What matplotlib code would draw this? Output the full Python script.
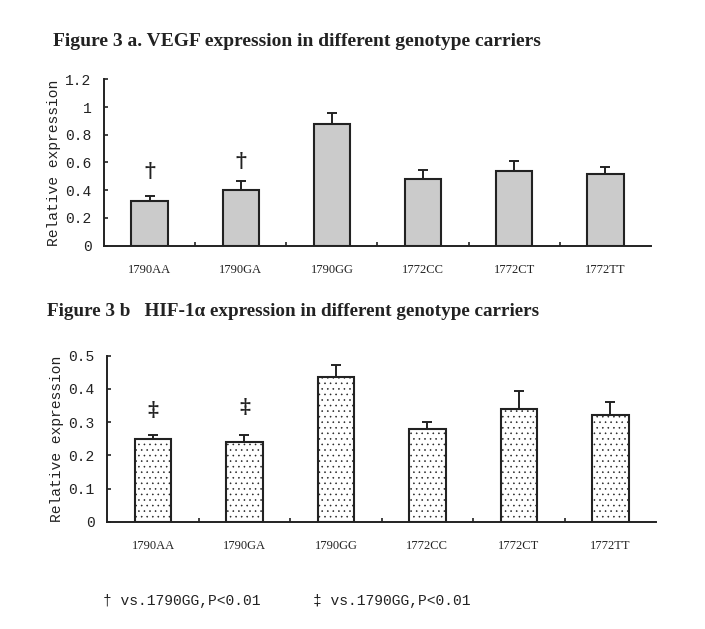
import matplotlib
matplotlib.use("Agg")
import matplotlib.pyplot as plt
import numpy as np

categories = ["1790AA", "1790GA", "1790GG", "1772CC", "1772CT", "1772TT"]
vegf_mean = [0.32, 0.40, 0.88, 0.48, 0.54, 0.52]
vegf_err = [0.04, 0.07, 0.08, 0.065, 0.07, 0.05]
hif_mean = [0.25, 0.24, 0.437, 0.28, 0.34, 0.322]
hif_err = [0.012, 0.022, 0.034, 0.02, 0.053, 0.038]
vegf_ticks = [0, 0.2, 0.4, 0.6, 0.8, 1, 1.2]
vegf_ticklabels = ["0", "0.2", "0.4", "0.6", "0.8", "1", "1.2"]
hif_ticks = [0, 0.1, 0.2, 0.3, 0.4, 0.5]
hif_ticklabels = ["0", "0.1", "0.2", "0.3", "0.4", "0.5"]
vegf_marks = {0: ("†", 0.54), 1: ("†", 0.61)}
hif_marks = {0: ("‡", 0.335), 1: ("‡", 0.345)}

MONO = "Liberation Mono"
SERIF = "Liberation Serif"

fig = plt.figure(figsize=(7.05, 6.29), dpi=100)
fig.patch.set_facecolor("white")


def draw(ax, means, errs, ticks, ticklabels, ymax, face, hatch, hatchcolor, marks):
    x = np.arange(len(categories))
    plt.rcParams["hatch.color"] = hatchcolor
    plt.rcParams["hatch.linewidth"] = 0.4
    ax.bar(x, means, width=0.40, color=face, edgecolor="#222222", linewidth=1.5,
           hatch=hatch, zorder=2)
    ax.errorbar(x, means, yerr=[np.zeros(len(errs)), errs], fmt="none",
                ecolor="#222222", elinewidth=1.4, capsize=3.5, capthick=1.4, zorder=3)
    for i, (sym, yv) in marks.items():
        ax.text(i, yv, sym, ha="center", va="center", fontsize=15,
                family=["DejaVu Serif"], fontweight="bold", color="#222222")
    ax.set_xlim(-0.5, len(categories) - 0.5)
    ax.set_ylim(0, ymax)
    ax.set_yticks(ticks)
    ax.set_yticklabels(ticklabels, family=MONO, fontsize=10.5, color="#222222")
    ax.set_xticks(np.arange(len(categories) - 1) + 0.5)
    ax.set_xticklabels([])
    ax.set_xticks(x, minor=True)
    ax.set_xticklabels(categories, minor=True, family=SERIF, fontsize=9,
                       color="#222222")
    ax.tick_params(axis="x", which="minor", length=0, pad=13)
    ax.tick_params(axis="x", which="major", direction="in", length=3, width=1.2,
                   color="#222222")
    ax.tick_params(axis="y", direction="in", length=3, width=1.2, pad=9,
                   color="#222222")
    for s in ["top", "right"]:
        ax.spines[s].set_visible(False)
    for s in ["left", "bottom"]:
        ax.spines[s].set_linewidth(1.4)
        ax.spines[s].set_color("#222222")
    ax.set_ylabel("Relative expression", family=MONO, fontsize=10.5,
                  color="#222222", labelpad=3)


ax1 = fig.add_axes([104 / 705, 1 - 245.7 / 629, (651 - 104) / 705, (245.7 - 79.3) / 629])
draw(ax1, vegf_mean, vegf_err, vegf_ticks, vegf_ticklabels, 1.2,
     "#cbcbcb", "", "#999999", vegf_marks)

ax2 = fig.add_axes([107.3 / 705, 1 - 521.7 / 629, (656 - 107.3) / 705, (521.7 - 355.7) / 629])
draw(ax2, hif_mean, hif_err, hif_ticks, hif_ticklabels, 0.5,
     "white", "...", "#b0b0b0", hif_marks)

fig.text(53 / 705, 1 - 41 / 629, "Figure 3 a. VEGF expression in different genotype carriers",
         family=SERIF, fontweight="bold", fontsize=14, va="center", ha="left",
         color="#222222")
fig.text(47 / 705, 1 - 312 / 629, "Figure 3 b   HIF-1α expression in different genotype carriers",
         family=SERIF, fontweight="bold", fontsize=13.8, va="center", ha="left",
         color="#222222")

fig.text(103 / 705, 1 - 601 / 629, "† vs.1790GG,P<0.01", family=[MONO, "DejaVu Sans"],
         fontsize=10.5, va="center", ha="left", color="#222222")
fig.text(313 / 705, 1 - 601 / 629, "‡ vs.1790GG,P<0.01", family=[MONO, "DejaVu Sans"],
         fontsize=10.5, va="center", ha="left", color="#222222")

fig.savefig("out.png", dpi=100, facecolor="white")
